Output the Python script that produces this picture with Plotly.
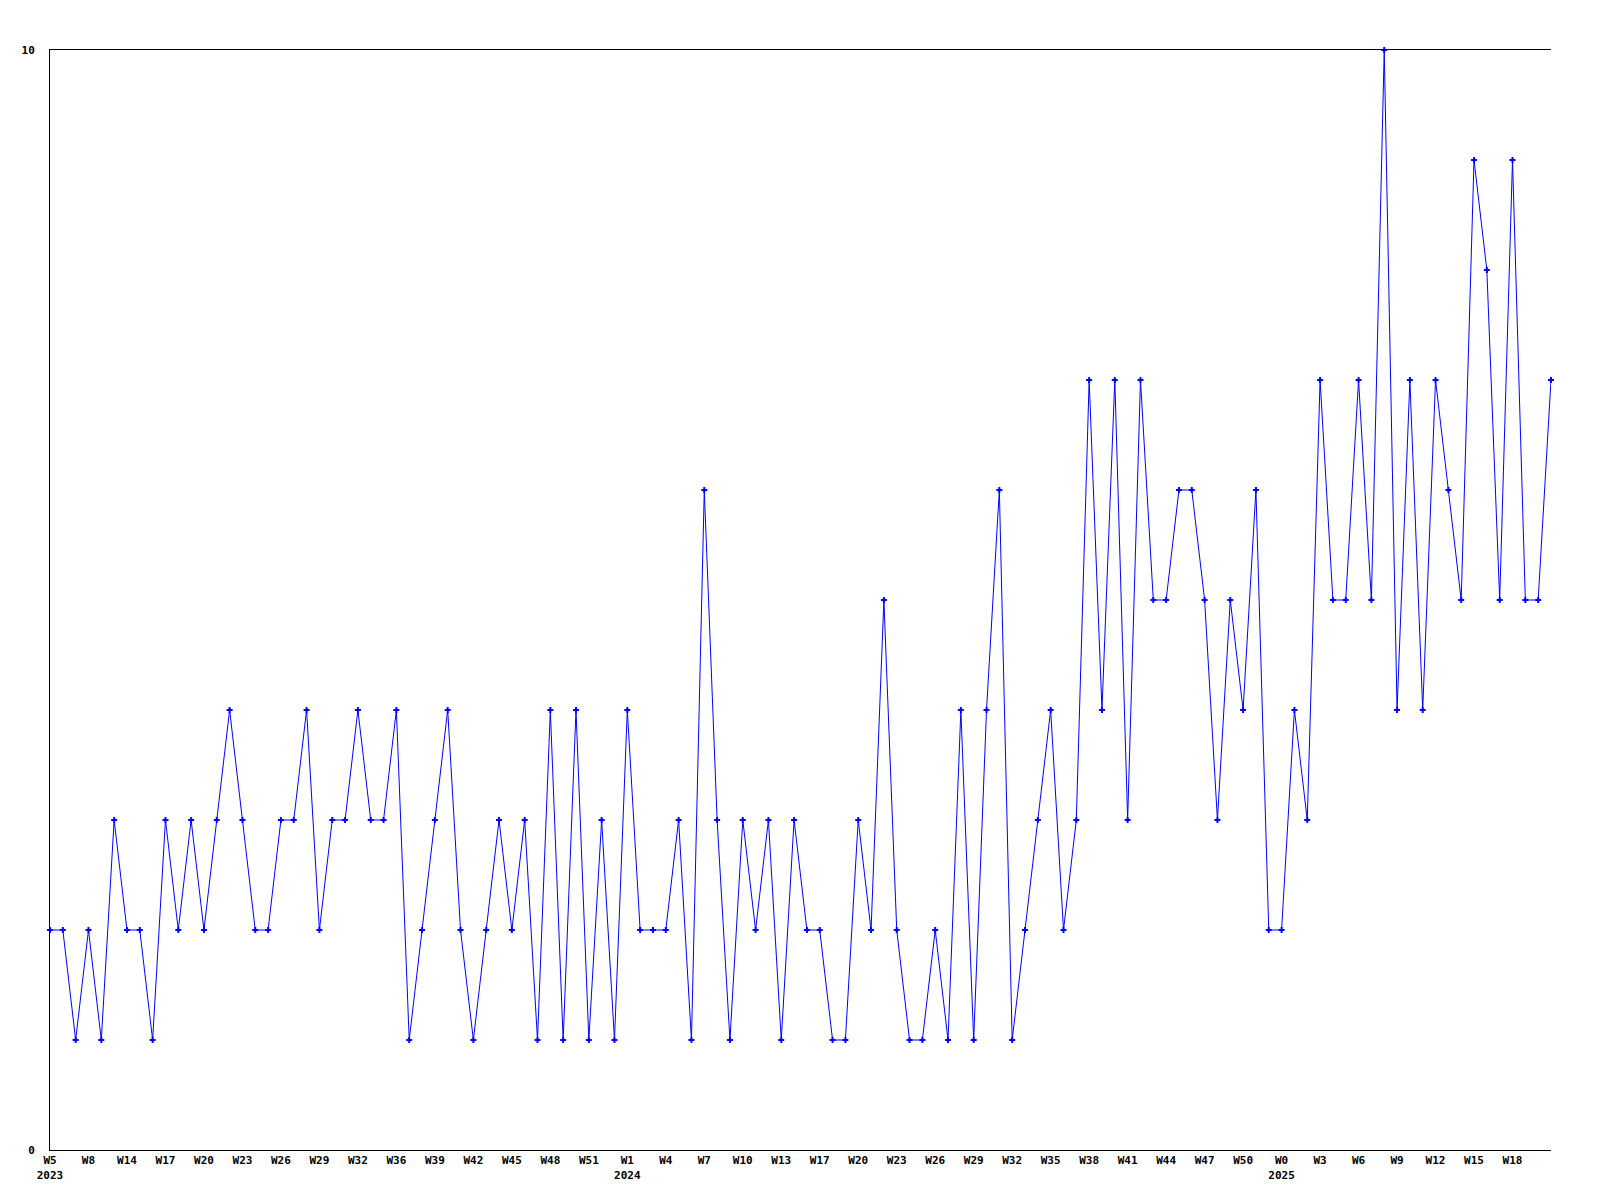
import plotly.graph_objects as go

values = [2, 2, 1, 2, 1, 3, 2, 2, 1, 3, 2, 3, 2, 3, 4, 3, 2, 2, 3, 3,
          4, 2, 3, 3, 4, 3, 3, 4, 1, 2, 3, 4, 2, 1, 2, 3, 2, 3, 1, 4,
          1, 4, 1, 3, 1, 4, 2, 2, 2, 3, 1, 6, 3, 1, 3, 2, 3, 1, 3, 2,
          2, 1, 1, 3, 2, 5, 2, 1, 1, 2, 1, 4, 1, 4, 6, 1, 2, 3, 4, 2,
          3, 7, 4, 7, 3, 7, 5, 5, 6, 6, 5, 3, 5, 4, 6, 2, 2, 4, 3, 7,
          5, 5, 7, 5, 10, 4, 7, 4, 7, 6, 5, 9, 8, 5, 9, 5, 5, 7]

tick_labels = ["W5", "W8", "W14", "W17", "W20", "W23", "W26", "W29", "W32", "W36",
               "W39", "W42", "W45", "W48", "W51", "W1", "W4", "W7", "W10", "W13",
               "W17", "W20", "W23", "W26", "W29", "W32", "W35", "W38", "W41", "W44",
               "W47", "W50", "W0", "W3", "W6", "W9", "W12", "W15", "W18"]
year_labels = {0: "2023", 15: "2024", 32: "2025"}

x = list(range(len(values)))
tickvals = [3 * k for k in range(len(tick_labels))]
ticktext = [lab + ("<br>" + year_labels[k] if k in year_labels else "")
            for k, lab in enumerate(tick_labels)]

fig = go.Figure()
fig.add_trace(go.Scatter(
    x=x, y=values, mode="lines+markers",
    line=dict(color="#0000ff", width=1),
    marker=dict(symbol="cross", size=5, color="#0000ff"),
    cliponaxis=False, showlegend=False,
))

font = dict(family="DejaVu Sans Mono", size=11, color="black", weight="bold")
fig.update_layout(
    width=1584, height=1184,
    margin=dict(l=42, r=41, t=42, b=42),
    paper_bgcolor="white", plot_bgcolor="white",
    font=font,
    xaxis=dict(range=[0, len(values) - 1], tickvals=tickvals, ticktext=ticktext,
               showgrid=False, zeroline=False, showline=True, mirror=True,
               linecolor="black", linewidth=1, ticks="", tickfont=font,
               automargin=False),
    yaxis=dict(range=[0, 10], tickvals=[0, 10], ticktext=["0", "10"],
               showgrid=False, zeroline=False, showline=True, mirror=False,
               linecolor="black", linewidth=1, ticks="", tickfont=font,
               ticklabelstandoff=12, automargin=False),
)
fig.write_html("out.html")
